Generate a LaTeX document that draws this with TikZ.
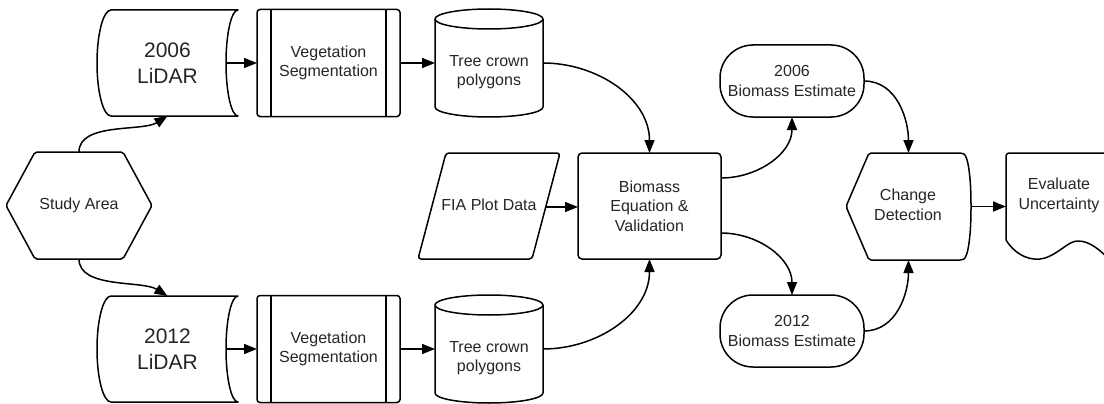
\documentclass[tikz,border=0pt]{standalone}
\usepackage{fontspec}
\setmainfont{Liberation Sans}
\usetikzlibrary{arrows.meta}
\newcommand\fsmall{\fontsize{16pt}{19.5pt}\selectfont}
\newcommand\flarge{\fontsize{21pt}{26pt}\selectfont}
\begin{document}
\begin{tikzpicture}[x=1pt,y=1pt,line join=round,
  shp/.style={draw=black,line width=1.5pt},
  txt/.style={inner sep=0pt,outer sep=0pt,align=center,font=\fsmall,text=black!85},
  bigtxt/.style={inner sep=0pt,outer sep=0pt,align=center,font=\flarge,text=black!85},
  procbox/.style={txt,shp,rounded corners=3pt,minimum width=143pt,minimum height=107pt},
  arr/.style={draw=black,line width=1.5pt,-{Triangle[length=13pt,width=10pt]}},
  stored/.pic={\draw[shp] (-56.5,53) -- (70.5,53)
      .. controls (63.9,53) and (58.5,29.3) .. (58.5,0)
      .. controls (58.5,-29.3) and (63.9,-53) .. (70.5,-53) -- (-56.5,-53)
      .. controls (-64.2,-53) and (-70.5,-29.3) .. (-70.5,0)
      .. controls (-70.5,29.3) and (-64.2,53) .. (-56.5,53) -- cycle;},
  cyl/.pic={\draw[shp] (0,44) ellipse [x radius=54, y radius=10];
      \draw[shp] (-54,44) -- (-54,-44)
      .. controls (-54,-49.5) and (-29.8,-54) .. (0,-54)
      .. controls (29.8,-54) and (54,-49.5) .. (54,-44) -- (54,44);}
]
\useasboundingbox (0,0) rectangle (1104,-404);
\clip (0,0) rectangle (1104,-404);
\fill[white] (0,0) rectangle (1104,-404);

% Study area
\draw[shp,rounded corners=2pt] (35,-152) -- (123,-152) -- (152,-205.5) -- (123,-259) -- (35,-259) -- (6,-205.5) -- cycle;
\node[txt,minimum width=146pt,minimum height=107pt] (sa) at (79,-205.5) {Study Area};

% LiDAR
\pic at (167.5,-63) {stored};
\node[bigtxt,minimum width=141pt,minimum height=106pt] (lid1) at (167.5,-63) {2006\\LiDAR};
\coordinate (lid1r) at (226,-63);
\pic at (167.5,-349) {stored};
\node[bigtxt,minimum width=141pt,minimum height=106pt] (lid2) at (167.5,-349) {2012\\LiDAR};
\coordinate (lid2r) at (226,-349);

% Vegetation segmentation
\node[procbox] (vs1) at (328.5,-63) {Vegetation\\Segmentation};
\draw[shp] ([xshift=14pt]vs1.north west) -- ([xshift=14pt]vs1.south west);
\draw[shp] ([xshift=-14pt]vs1.north east) -- ([xshift=-14pt]vs1.south east);
\node[procbox] (vs2) at (328.5,-349) {Vegetation\\Segmentation};
\draw[shp] ([xshift=14pt]vs2.north west) -- ([xshift=14pt]vs2.south west);
\draw[shp] ([xshift=-14pt]vs2.north east) -- ([xshift=-14pt]vs2.south east);

% Cylinders
\pic at (489,-63) {cyl};
\node[txt,minimum width=108pt,minimum height=108pt] (cyl1) at (489,-63) {};
\node[txt] (cyl1t) at (489,-72) {Tree crown\\polygons};
\pic at (489,-349) {cyl};
\node[txt,minimum width=108pt,minimum height=108pt] (cyl2) at (489,-349) {};
\node[txt] (cyl2t) at (489,-358) {Tree crown\\polygons};

% FIA
\draw[shp,rounded corners=3pt] (446,-153) -- (560,-153) -- (532,-259) -- (418,-259) -- cycle;
\node[txt] (fia) at (489,-205) {FIA Plot Data};
\coordinate (fiar) at (546,-207);

% Biomass equation
\node[txt,shp,rounded corners=4pt,minimum width=143pt,minimum height=106pt] (bio) at (649.5,-206) {Biomass\\Equation \&\\Validation};

% Biomass estimates
\node[txt,shp,rounded corners=33pt,minimum width=144pt,minimum height=72pt] (be1) at (792,-81) {2006\\Biomass Estimate};
\node[txt,shp,rounded corners=33pt,minimum width=144pt,minimum height=72pt] (be2) at (792,-331) {2012\\Biomass Estimate};

% Change detection (display shape)
\draw[shp,rounded corners=2pt] (869,-153) -- (962,-153)
   .. controls (968,-156) and (971,-177) .. (971,-206.5)
   .. controls (971,-236) and (968,-257) .. (962,-260) -- (869,-260) -- (846,-206.5) -- cycle;
\node[txt,minimum width=125pt,minimum height=107pt] (cd) at (908.5,-206.5) {};
\node[txt] (cdt) at (908,-205) {Change\\Detection};

% Evaluate uncertainty (document shape)
\draw[shp,rounded corners=3pt] (1006,-240) -- (1006,-153) -- (1120,-153);
\draw[shp] (1006,-240) .. controls (1016,-256) and (1032,-262) .. (1045,-258)
   .. controls (1060,-253) and (1068,-241) .. (1078,-241)
   .. controls (1090,-241) and (1100,-250) .. (1112,-262);
\node[txt,minimum width=106pt,minimum height=107pt] (ev) at (1059,-206.5) {};
\node[txt] (evt) at (1059,-195.5) {Evaluate\\Uncertainty};

% Connectors
\draw[arr] (sa.north) to[out=90,in=-148,looseness=0.8] (lid1.south);
\draw[arr] (sa.south) to[out=-90,in=148,looseness=0.8] (lid2.north);
\draw[arr] (lid1r) -- (vs1.west);
\draw[arr] (lid2r) -- (vs2.west);
\draw[arr] (vs1.east) -- (cyl1.west);
\draw[arr] (vs2.east) -- (cyl2.west);
\draw[arr] (cyl1.east) to[out=0,in=90] (bio.north);
\draw[arr] (cyl2.east) to[out=0,in=-90] (bio.south);
\draw[arr] (fiar) -- (fiar -| bio.west);
\draw[arr] ([yshift=28pt]bio.east) to[out=0,in=-90] (be1.south);
\draw[arr] ([yshift=-27pt]bio.east) to[out=0,in=90] (be2.north);
\draw[arr] (be1.east) to[out=0,in=90] (cd.north);
\draw[arr] (be2.east) to[out=0,in=-90] (cd.south);
\draw[arr] (cd.east) -- (ev.west);
\end{tikzpicture}
\end{document}
